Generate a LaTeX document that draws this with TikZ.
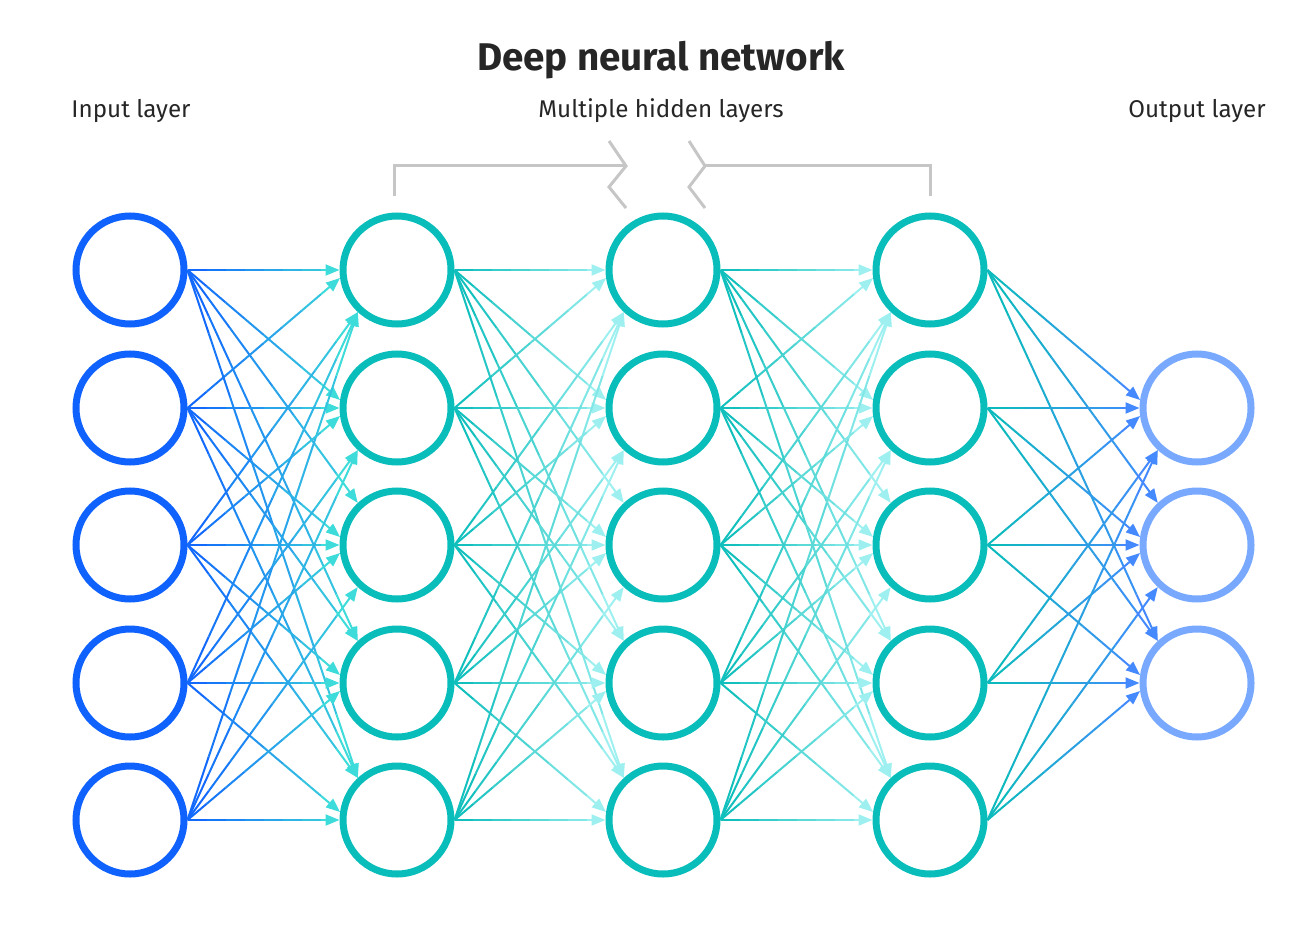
\documentclass[tikz,border=0pt]{standalone}
\usepackage{fontspec}
\setmainfont{Fira Sans}
\usetikzlibrary{arrows.meta,calc}

\definecolor{inblue}{HTML}{0F62FE}
\definecolor{hidteal}{HTML}{08BDBA}
\definecolor{outblue}{HTML}{78A9FF}
\definecolor{tealend}{HTML}{3DDBD9}
\definecolor{paleend}{HTML}{9EF0F0}
\definecolor{blueend}{HTML}{4589FF}
\definecolor{brkgray}{HTML}{C6C6C6}
\definecolor{txt}{HTML}{262626}

% edge from node #1 to node #2 (#3 = row offset), coloured from #4 to #5
\newcommand{\gradedge}[5]{%
  \pgfmathsetmacro{\tipang}{180 + sign(#3)*(abs(#3)>1 ? 47 : 8*abs(#3))}
  \coordinate (gs) at (#1.east);
  \coordinate (ge) at ($(#2)+(\tipang:28.75pt)$);
  \foreach \k in {1,...,7}{%
    \pgfmathtruncatemacro{\mixp}{100*(\k-0.5)/8}
    \draw[wire, draw=#5!\mixp!#4] ($(gs)!{(\k-1)/8}!(ge)$) -- ($(gs)!{\k/8}!(ge)$);
  }
  \draw[wire, draw=#5, fill=#5, tip] ($(gs)!{7/8}!(ge)$) -- (ge);
}

\begin{document}
\begin{tikzpicture}[
    x=0.5pt, y=-0.5pt,
    every node/.style={text=txt},
    nd/.style={circle, draw, line width=3.5pt, minimum size=54pt, inner sep=0pt},
    wire/.style={line width=1pt},
    tip/.style={-{Triangle[length=7pt, width=5.5pt]}},
    brk/.style={draw=brkgray, line width=1.5pt},
    ttl/.style={font=\bfseries\fontsize{19.3}{22}\selectfont},
    lyr/.style={font=\fontsize{12.1}{14}\selectfont},
  ]
  \useasboundingbox (0,0) rectangle (1309,930);

  \node[ttl] (title) at (661,60) {Deep neural network};
  \node[lyr] (linput) at (131,111) {Input layer};
  \node[lyr] (lhidden) at (661,111) {Multiple hidden layers};
  \node[lyr] (loutput) at (1197,111) {Output layer};

  % bracket over the hidden layers
  \draw[brk] (394,196) -- (394,166) -- (626,166);
  \draw[brk] (609,141) -- (626,166) -- (609,187) -- (626,208);
  \draw[brk] (930,196) -- (930,166) -- (705,166);
  \draw[brk] (689,141) -- (705,166) -- (689,187) -- (705,208);

  % input layer
  \node[nd, draw=inblue] (in1) at (130,270) {};
  \node[nd, draw=inblue] (in2) at (130,408) {};
  \node[nd, draw=inblue] (in3) at (130,545) {};
  \node[nd, draw=inblue] (in4) at (130,683) {};
  \node[nd, draw=inblue] (in5) at (130,820) {};
  % hidden layers
  \node[nd, draw=hidteal] (ha1) at (397,270) {};
  \node[nd, draw=hidteal] (ha2) at (397,408) {};
  \node[nd, draw=hidteal] (ha3) at (397,545) {};
  \node[nd, draw=hidteal] (ha4) at (397,683) {};
  \node[nd, draw=hidteal] (ha5) at (397,820) {};
  \node[nd, draw=hidteal] (hb1) at (663,270) {};
  \node[nd, draw=hidteal] (hb2) at (663,408) {};
  \node[nd, draw=hidteal] (hb3) at (663,545) {};
  \node[nd, draw=hidteal] (hb4) at (663,683) {};
  \node[nd, draw=hidteal] (hb5) at (663,820) {};
  \node[nd, draw=hidteal] (hc1) at (930,270) {};
  \node[nd, draw=hidteal] (hc2) at (930,408) {};
  \node[nd, draw=hidteal] (hc3) at (930,545) {};
  \node[nd, draw=hidteal] (hc4) at (930,683) {};
  \node[nd, draw=hidteal] (hc5) at (930,820) {};
  % output layer
  \node[nd, draw=outblue] (out1) at (1197,408) {};
  \node[nd, draw=outblue] (out2) at (1197,545) {};
  \node[nd, draw=outblue] (out3) at (1197,683) {};

  % connections
  \foreach \s in {1,...,5}{
    \foreach \t in {1,...,5}{
      \gradedge{in\s}{ha\t}{\s-\t}{inblue}{tealend}
      \gradedge{ha\s}{hb\t}{\s-\t}{hidteal}{paleend}
      \gradedge{hb\s}{hc\t}{\s-\t}{hidteal}{paleend}
    }
    \foreach \t in {1,...,3}{
      \gradedge{hc\s}{out\t}{\s-\t-1}{hidteal}{blueend}
    }
  }
\end{tikzpicture}
\end{document}
